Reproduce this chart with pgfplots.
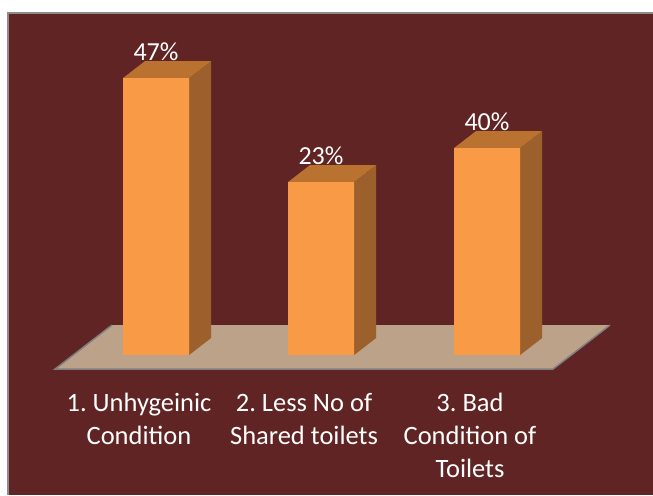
\documentclass[border=0pt]{standalone}
\usepackage{pgfplots}
\usepackage{pgfplotstable}
\usepackage{fontspec}
\setmainfont{Carlito}
\pgfplotsset{compat=1.18}
\definecolor{panel}{HTML}{612424}
\definecolor{edge}{HTML}{8C8C8C}
\definecolor{floorc}{HTML}{BDA28A}
\definecolor{flooredge}{HTML}{7F7F7F}
\definecolor{front}{HTML}{F99A47}
\definecolor{side}{HTML}{9C602C}
\definecolor{topc}{HTML}{B9722F}
% x = bar centre, height = drawn height above the floor line, label = printed value
\pgfplotstableread{
x height label
156 277 47
321 173 23
487 207 40
}\bars
\begin{document}
\begin{tikzpicture}
\begin{axis}[
  scale only axis, width=653pt, height=495pt,
  xmin=0, xmax=653, ymin=-140, ymax=355,
  axis background/.style={fill=white},
  axis on top,
  axis line style={draw=none},
  ytick=\empty, major tick length=0pt,
  xtick={139,304,470},
  xticklabels={{1. Unhygeinic\\Condition}, {2. Less No of\\Shared toilets}, {3. Bad\\Condition of\\Toilets}},
  xticklabel style={align=center, text=white, anchor=north, yshift=102pt,
    font=\fontsize{26.5}{33}\selectfont\frenchspacing, inner sep=0pt},
]
% panel and its edges
\addplot[fill=panel, draw=none, forget plot] coordinates {(8,-140)(8,342)(653,342)(653,-140)};
\addplot[edge, line width=2pt, forget plot] coordinates {(8,-140)(8,342)(653,342)};
% floor
\addplot[fill=floorc, draw=none, forget plot] coordinates {(55,-14)(112,30)(610,30)(553,-14)};
\addplot[flooredge, line width=1.5pt, forget plot] coordinates {(112,30)(55,-14)(553,-14)(610,30)};
% side faces
\addplot[fill=side, draw=none, forget plot] coordinates {(189,0)(211,17)(211,294)(189,277)};
\addplot[fill=side, draw=none, forget plot] coordinates {(354,0)(376,17)(376,190)(354,173)};
\addplot[fill=side, draw=none, forget plot] coordinates {(520,0)(542,17)(542,224)(520,207)};
% top faces
\addplot[fill=topc, draw=none, forget plot] coordinates {(123,277)(145,294)(211,294)(189,277)};
\addplot[fill=topc, draw=none, forget plot] coordinates {(288,173)(310,190)(376,190)(354,173)};
\addplot[fill=topc, draw=none, forget plot] coordinates {(454,207)(476,224)(542,224)(520,207)};
% front faces with value labels
\addplot[ybar, bar width=66pt, bar shift=0pt, fill=front, draw=none,
  point meta=explicit symbolic,
  nodes near coords={\pgfplotspointmeta\%},
  every node near coord/.append style={text=white, anchor=south, yshift=17pt,
    font=\fontsize{26}{30}\selectfont, inner sep=0pt},
] table[x=x, y=height, meta=label] {\bars};
\end{axis}
\end{tikzpicture}
\end{document}
